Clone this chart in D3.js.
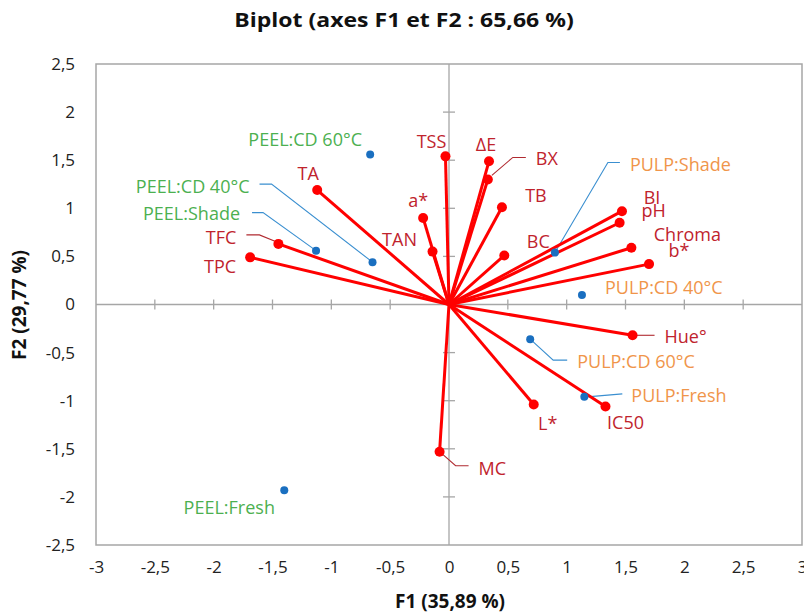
<!DOCTYPE html>
<html><head><meta charset="utf-8">
<script src="https://cdn.jsdelivr.net/npm/d3@7/dist/d3.min.js"></script>
<style>
body{margin:0;background:#fff;}
text{font-family:"Open Sans",sans-serif;}
</style></head>
<body><svg id="c" width="804" height="615"></svg>
<script>
// ---- data ----
const varNames = ["TSS","ΔE","BX","TB","BC","BI","pH","Chroma","b*","Hue°","IC50","L*","MC","TAN","a*","TA","TFC","TPC"];
const varF1    = [-0.03, 0.34, 0.33, 0.45, 0.47, 1.47, 1.45, 1.55, 1.70, 1.56, 1.33, 0.72, -0.08, -0.14, -0.22, -1.12, -1.45, -1.69];
const varF2    = [ 1.54, 1.49, 1.30, 1.01, 0.51, 0.97, 0.85, 0.59, 0.42, -0.32, -1.06, -1.04, -1.53, 0.55, 0.90, 1.19, 0.63, 0.49];
const obsNames = ["PEEL:CD 60°C","PEEL:CD 40°C","PEEL:Shade","PEEL:Fresh","PULP:Shade","PULP:CD 40°C","PULP:CD 60°C","PULP:Fresh"];
const obsF1    = [-0.67, -0.65, -1.13, -1.40, 0.90, 1.13, 0.69, 1.15];
const obsF2    = [ 1.56, 0.44, 0.56, -1.93, 0.54, 0.10, -0.36, -0.96];
const xTicks = [-3,-2.5,-2,-1.5,-1,-0.5,0,0.5,1,1.5,2,2.5,3];
const yTicks = [-2.5,-2,-1.5,-1,-0.5,0,0.5,1,1.5,2,2.5];
const title = "Biplot (axes F1 et F2 : 65,66 %)";
const xTitle = "F1 (35,89 %)";
const yTitle = "F2 (29,77 %)";

// ---- layout (label offsets in px relative to the point) ----
const varLab = {
  "TSS":{dx:-14,dy:-15,a:"middle"}, "ΔE":{dx:-3,dy:-17,a:"middle"},
  "BX":{dx:48,dy:-21,a:"start",lead:[[4,-4],[25,-22],[38,-22]]},
  "TB":{dx:34,dy:-12,a:"middle"}, "BC":{dx:34,dy:-14,a:"middle"},
  "BI":{dx:30,dy:-14,a:"middle"}, "pH":{dx:34,dy:-13,a:"middle"},
  "Chroma":{dx:56,dy:-14,a:"middle"}, "b*":{dx:30,dy:-14,a:"middle"},
  "Hue°":{dx:32,dy:1,a:"start",lead:[[0,0],[22,0]]},
  "IC50":{dx:20,dy:16,a:"middle"}, "L*":{dx:14,dy:18,a:"middle"},
  "MC":{dx:39,dy:16,a:"start",lead:[[0,0],[16,14],[29,14]]},
  "TAN":{dx:-33,dy:-13,a:"middle"}, "a*":{dx:-5,dy:-18,a:"middle"},
  "TA":{dx:-9,dy:-17,a:"middle"},
  "TFC":{dx:-42,dy:-7,a:"end",lead:[[-4,-3],[-19,-9],[-32,-9]]},
  "TPC":{dx:-30,dy:9,a:"middle"}
};
const obsLab = {
  "PEEL:CD 60°C":{dx:-65,dy:-15,a:"middle"},
  "PEEL:CD 40°C":{dx:-123,dy:-76,a:"end",lead:[[0,0],[-101,-78],[-113,-78]]},
  "PEEL:Shade":{dx:-76,dy:-38,a:"end",lead:[[0,0],[-53,-38],[-64,-38]]},
  "PEEL:Fresh":{dx:-55,dy:17,a:"middle"},
  "PULP:Shade":{dx:75,dy:-89,a:"start",lead:[[0,0],[53,-90],[65,-90]]},
  "PULP:CD 40°C":{dx:23,dy:-8,a:"start"},
  "PULP:CD 60°C":{dx:47,dy:22,a:"start",lead:[[0,0],[23,21],[37,21]]},
  "PULP:Fresh":{dx:47,dy:-2,a:"start",lead:[[3,0],[38,-3]]}
};

const svg = d3.select("#c");
const L=96,R=802,T=64,B=545;
const x = d3.scaleLinear().domain([-3,3]).range([L,R]);
const y = d3.scaleLinear().domain([-2.5,2.5]).range([B,T]);
const fmt = d => String(d).replace(".",",");
const gray="#a6a6a6";
const FF='"Open Sans",sans-serif';

// title
svg.append("text").attr("transform","translate(404,27) scale(1.15,1)").attr("text-anchor","middle")
  .style("font-weight","bold").style("font-size","20px").attr("fill","#111").text(title);

// frame
svg.append("rect").attr("x",L).attr("y",T).attr("width",R-L).attr("height",B-T)
  .attr("fill","none").attr("stroke",gray).attr("stroke-width",1.5);

// tick labels (axis generators, domain/ticks hidden)
const gx = svg.append("g").attr("transform",`translate(0,${B})`)
  .call(d3.axisBottom(x).tickValues(xTicks).tickFormat(fmt).tickSize(0).tickPadding(16));
const gy = svg.append("g").attr("transform",`translate(${L},0)`)
  .call(d3.axisLeft(y).tickValues(yTicks).tickFormat(fmt).tickSize(0).tickPadding(21));
[gx,gy].forEach(g=>{g.select(".domain").remove();
  g.selectAll("text").style("font-size","17px").attr("fill","#222").style("font-family",FF);});

// zero axes with cross ticks
svg.append("line").attr("x1",L).attr("x2",R).attr("y1",y(0)).attr("y2",y(0)).attr("stroke",gray).attr("stroke-width",1.3);
svg.append("line").attr("x1",x(0)).attr("x2",x(0)).attr("y1",T).attr("y2",B).attr("stroke",gray).attr("stroke-width",1.3);
svg.append("g").selectAll("line").data(xTicks.filter(d=>d>-3&&d<3&&d!==0)).join("line")
  .attr("x1",d=>x(d)).attr("x2",d=>x(d)).attr("y1",y(0)-5).attr("y2",y(0)+5).attr("stroke",gray).attr("stroke-width",1.3);
svg.append("g").selectAll("line").data(yTicks.filter(d=>d>-2.5&&d<2.5&&d!==0)).join("line")
  .attr("y1",d=>y(d)).attr("y2",d=>y(d)).attr("x1",x(0)-6).attr("x2",x(0)+6).attr("stroke",gray).attr("stroke-width",1.3);

// axis titles
svg.append("text").attr("x",450).attr("y",608).attr("text-anchor","middle")
  .style("font-weight","bold").style("font-size","19px").attr("fill","#111").text(xTitle);
svg.append("text").attr("transform","translate(26,305) rotate(-90)").attr("text-anchor","middle")
  .style("font-weight","bold").style("font-size","19px").attr("fill","#111").text(yTitle);

const vars = varNames.map((n,i)=>({n,f1:varF1[i],f2:varF2[i]}));
const obs = obsNames.map((n,i)=>({n,f1:obsF1[i],f2:obsF2[i]}));
const lineGen = d3.line();

// observation leader lines
obs.forEach(o=>{const lb=obsLab[o.n]; if(lb.lead){
  svg.append("path").attr("d",lineGen(lb.lead.map(p=>[x(o.f1)+p[0],y(o.f2)+p[1]])))
   .attr("fill","none").attr("stroke","#3a8fd0").attr("stroke-width",1.1);}});
// variable leader lines
vars.forEach(v=>{const lb=varLab[v.n]; if(lb.lead){
  svg.append("path").attr("d",lineGen(lb.lead.map(p=>[x(v.f1)+p[0],y(v.f2)+p[1]])))
   .attr("fill","none").attr("stroke","#b02a30").attr("stroke-width",1.1);}});

// vectors
svg.append("g").selectAll("line").data(vars).join("line")
  .attr("x1",x(0)).attr("y1",y(0)).attr("x2",d=>x(d.f1)).attr("y2",d=>y(d.f2))
  .attr("stroke","#ff0000").attr("stroke-width",3);
svg.append("g").selectAll("circle").data(vars).join("circle")
  .attr("cx",d=>x(d.f1)).attr("cy",d=>y(d.f2)).attr("r",5).attr("fill","#ff0000");

// observations
svg.append("g").selectAll("circle").data(obs).join("circle")
  .attr("cx",d=>x(d.f1)).attr("cy",d=>y(d.f2)).attr("r",4).attr("fill","#1a6fc0");

// labels
svg.append("g").selectAll("text").data(vars).join("text")
  .attr("x",d=>x(d.f1)+varLab[d.n].dx).attr("y",d=>y(d.f2)+varLab[d.n].dy)
  .attr("text-anchor",d=>varLab[d.n].a).attr("dominant-baseline","central")
  .style("font-size","18px").attr("fill","#c0232d").text(d=>d.n);
svg.append("g").selectAll("text").data(obs).join("text")
  .attr("x",d=>x(d.f1)+obsLab[d.n].dx).attr("y",d=>y(d.f2)+obsLab[d.n].dy)
  .attr("text-anchor",d=>obsLab[d.n].a).attr("dominant-baseline","central")
  .style("font-size","18px").attr("fill",d=>d.n.startsWith("PEEL")?"#4cb050":"#f0954a").text(d=>d.n);
</script></body></html>
